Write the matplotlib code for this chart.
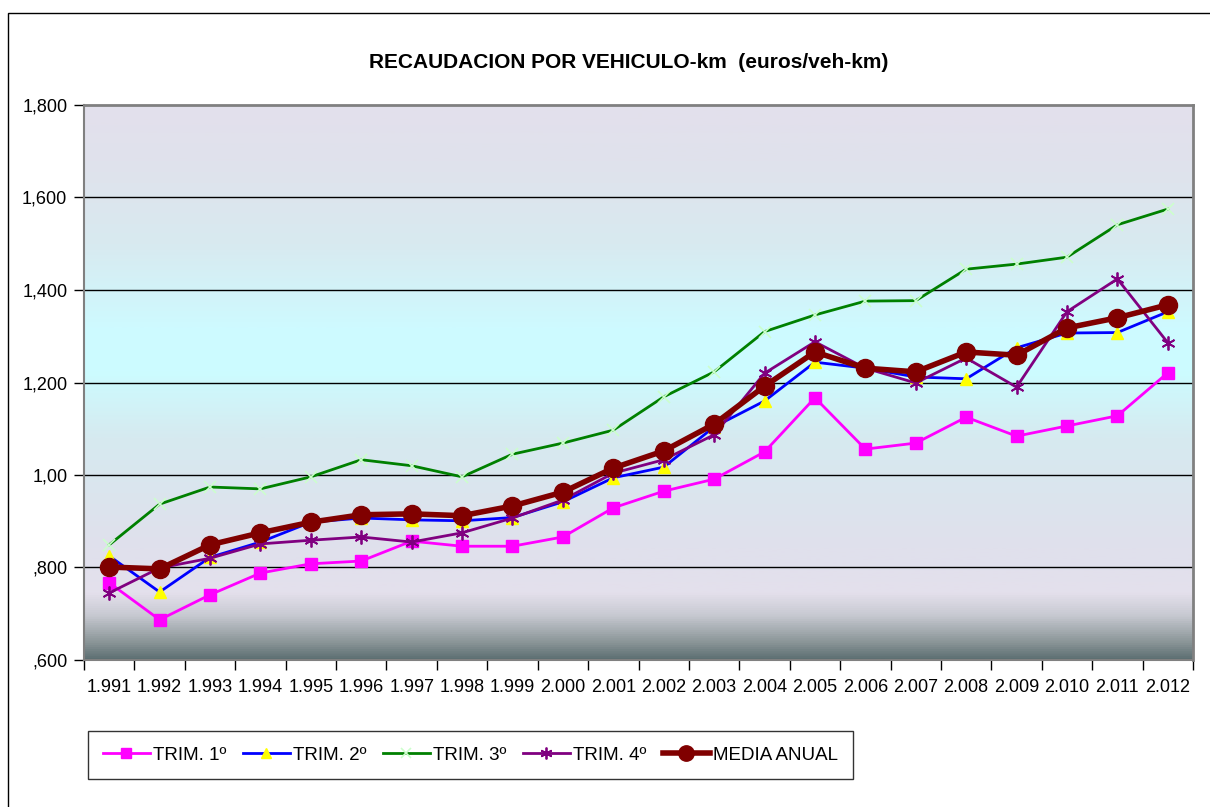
import numpy as np
import matplotlib
matplotlib.use("Agg")
import matplotlib.pyplot as plt
from matplotlib.colors import LinearSegmentedColormap
from matplotlib.patches import Rectangle
from matplotlib.ticker import FixedLocator, FixedFormatter

plt.rcParams['font.family'] = ['Liberation Sans', 'DejaVu Sans']

years = ["1.991", "1.992", "1.993", "1.994", "1.995", "1.996", "1.997", "1.998",
         "1.999", "2.000", "2.001", "2.002", "2.003", "2.004", "2.005", "2.006",
         "2.007", "2.008", "2.009", "2.010", "2.011", "2.012"]

trim1 = [0.767, 0.687, 0.741, 0.788, 0.808, 0.814, 0.857, 0.846, 0.846, 0.866, 0.929,
         0.965, 0.991, 1.050, 1.167, 1.056, 1.069, 1.125, 1.084, 1.106, 1.128, 1.221]
trim2 = [0.825, 0.747, 0.822, 0.855, 0.898, 0.907, 0.903, 0.901, 0.908, 0.942, 0.994,
         1.017, 1.104, 1.160, 1.244, 1.231, 1.212, 1.208, 1.275, 1.307, 1.308, 1.353]
trim3 = [0.849, 0.937, 0.974, 0.970, 0.996, 1.033, 1.020, 0.996, 1.045, 1.069, 1.097,
         1.169, 1.223, 1.310, 1.346, 1.376, 1.377, 1.445, 1.456, 1.471, 1.541, 1.575]
trim4 = [0.745, 0.799, 0.820, 0.851, 0.859, 0.866, 0.855, 0.875, 0.907, 0.946, 1.004,
         1.033, 1.087, 1.220, 1.288, 1.231, 1.199, 1.253, 1.190, 1.353, 1.424, 1.286]
media = [0.801, 0.797, 0.849, 0.875, 0.898, 0.914, 0.916, 0.912, 0.933, 0.963, 1.015,
         1.052, 1.110, 1.192, 1.266, 1.231, 1.223, 1.266, 1.259, 1.318, 1.340, 1.368]

ytick_vals = [0.6, 0.8, 1.0, 1.2, 1.4, 1.6, 1.8]
ytick_labels = [",600", ",800", "1,00", "1,200", "1,400", "1,600", "1,800"]

title = "RECAUDACION POR VEHICULO-km  (euros/veh-km)"
labels = ["TRIM. 1º", "TRIM. 2º", "TRIM. 3º", "TRIM. 4º", "MEDIA ANUAL"]

fig = plt.figure(figsize=(12.1, 8.07), dpi=100)
fig.patch.set_facecolor("white")

# outer frame
fig.patches.append(Rectangle((8/1210, -0.02), 1.1, 1 - 13/807 + 0.02,
                             transform=fig.transFigure, fill=False,
                             edgecolor="black", linewidth=1.0))

ax = fig.add_axes([84/1210, 1 - 660/807, (1193 - 84)/1210, (660 - 105)/807])

x = np.arange(len(years))
ax.set_xlim(-0.5, len(years) - 0.5)
ax.set_ylim(0.6, 1.8)

# gradient background
cmap = LinearSegmentedColormap.from_list("bg", [
    (0.00, "#5c6f72"),
    (0.03, "#8a9597"),
    (0.08, "#c8cad2"),
    (0.12, "#e4e0ec"),
    (0.20, "#e0e0ec"),
    (0.40, "#d6eaf0"),
    (0.52, "#ccfcff"),
    (0.60, "#cefaff"),
    (0.75, "#d8eaf0"),
    (0.90, "#e0e2ec"),
    (1.00, "#e3e0ec"),
])
grad = np.linspace(0, 1, 512).reshape(-1, 1)
ax.imshow(grad, extent=[-0.5, len(years) - 0.5, 0.6, 1.8], origin="lower",
          aspect="auto", cmap=cmap, zorder=0)

for v in [0.8, 1.0, 1.2, 1.4, 1.6]:
    ax.axhline(v, color="black", linewidth=1.0, zorder=1)

ax.plot(x, trim1, color="#ff00ff", linewidth=2.0, marker="s", markersize=9,
        markerfacecolor="#ff00ff", markeredgecolor="#ff00ff", label=labels[0], zorder=3)
ax.plot(x, trim2, color="#0000ff", linewidth=2.0, marker="^", markersize=9,
        markerfacecolor="#ffff00", markeredgecolor="#ffff00", label=labels[1], zorder=3)
ax.plot(x, trim3, color="#008000", linewidth=2.0, marker="x", markersize=9,
        markeredgewidth=1.2, markeredgecolor="#ccffcc", label=labels[2], zorder=3)
ax.plot(x, trim4, color="#800080", linewidth=2.0, marker=(6, 2, 0), markersize=10,
        markeredgewidth=1.3, markeredgecolor="#800080", label=labels[3], zorder=3)
ax.plot(x, media, color="#800000", linewidth=4.0, marker="o", markersize=13,
        markerfacecolor="#800000", markeredgecolor="#800000", label=labels[4], zorder=4)

# axes styling
for side in ["top", "right"]:
    ax.spines[side].set_color("#808080")
    ax.spines[side].set_linewidth(2.0)
ax.spines["left"].set_color("#808080")
ax.spines["left"].set_linewidth(1.5)
ax.spines["bottom"].set_color("#808080")
ax.spines["bottom"].set_linewidth(1.5)

ax.yaxis.set_major_locator(FixedLocator(ytick_vals))
ax.yaxis.set_major_formatter(FixedFormatter(ytick_labels))
ax.tick_params(axis="y", direction="out", length=7, width=1, color="black",
               labelsize=13, pad=5)

ax.set_xticks(x)
ax.set_xticklabels(years)
ax.set_xticks(np.arange(-0.5, len(years), 1.0), minor=True)
ax.tick_params(axis="x", which="major", length=0, labelsize=13, pad=14)
ax.tick_params(axis="x", which="minor", direction="out", length=7, width=1, color="black")

fig.text(629/1210, 1 - 62/807, title, ha="center", va="center",
         fontsize=15, fontweight="bold")

leg = fig.legend(loc="center left", bbox_to_anchor=(88/1210, 1 - 755/807), ncol=5,
                 fontsize=13.5, frameon=True, fancybox=False, edgecolor="black",
                 handlelength=2.5, handletextpad=0.15, columnspacing=0.9,
                 borderpad=0.8, borderaxespad=0.0, markerscale=0.85)
leg.get_frame().set_linewidth(1.0)

fig.savefig("out.png", dpi=100, facecolor="white")
